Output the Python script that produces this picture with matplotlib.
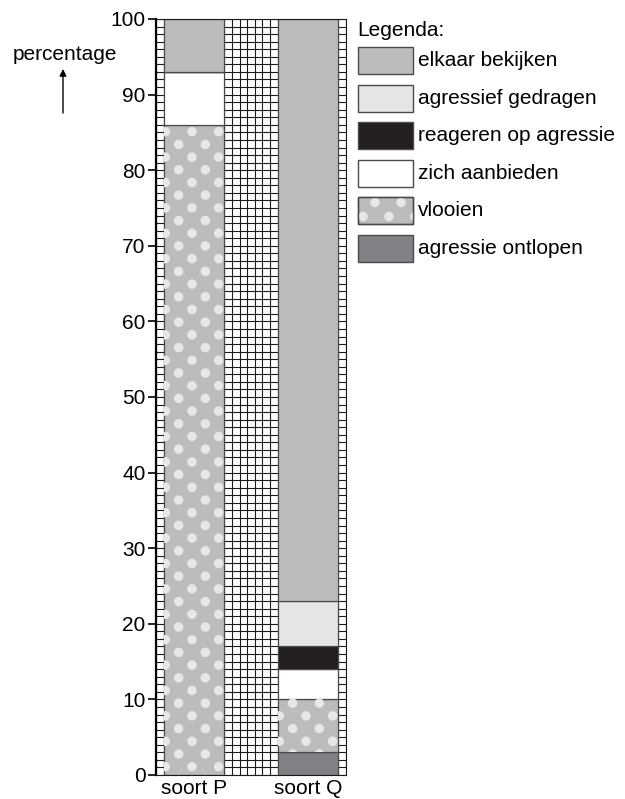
import matplotlib
matplotlib.use("Agg")
import matplotlib.pyplot as plt
import numpy as np
from matplotlib.patches import Rectangle, Ellipse

plt.rcParams["font.family"] = ["Liberation Sans", "DejaVu Sans"]

# data: percentage per behaviour, stacked bottom -> top
species = ["soort P", "soort Q"]
behaviours = ["agressie ontlopen", "vlooien", "zich aanbieden",
              "reageren op agressie", "agressief gedragen", "elkaar bekijken"]
soort_p = [0, 86, 7, 0, 0, 7]
soort_q = [3, 7, 4, 3, 6, 77]

# legend order (top -> bottom)
legend_order = ["elkaar bekijken", "agressief gedragen", "reageren op agressie",
                "zich aanbieden", "vlooien", "agressie ontlopen"]

colors = {
    "elkaar bekijken": "#bbbcbe",
    "agressief gedragen": "#e4e5e6",
    "reageren op agressie": "#231f20",
    "zich aanbieden": "#ffffff",
    "vlooien": "#bbbcbe",
    "agressie ontlopen": "#808285",
}
DOT_COLOR = "#e6e7e8"
EDGE = "#4a4a4a"

W, H = 625, 799
fig = plt.figure(figsize=(W / 100, H / 100), dpi=100)

# main axes in pixel geometry: x 156..346, y 19..775
ax = fig.add_axes([156 / W, (H - 775) / H, 190 / W, 756 / H])
ax.set_xlim(0, 25)
ax.set_ylim(0, 100)
px_x = 190 / 25
px_y = 756 / 100

x_pos = [5, 20]
bar_w = 8


def add_dots(target, patch, x0, x1, y0, y1, dx, dy, first, dw, dh):
    """Staggered light dots over a patch, clipped to it."""
    k = int(np.floor((y0 - first) / dy)) - 1
    while first + k * dy < y1 + dy:
        yy = first + k * dy
        off = 0.22 * dx / 3.5 if k % 2 == 0 else 0.22 * dx / 3.5 + dx / 2
        xx = x0 + off - dx
        while xx < x1 + dx:
            e = Ellipse((xx, yy), dw, dh, facecolor=DOT_COLOR,
                        edgecolor="none", zorder=3)
            target.add_patch(e)
            e.set_clip_path(patch)
            xx += dx
        k += 1


bottoms = np.zeros(len(species))
for i, b in enumerate(behaviours):
    vals = np.array([soort_p[i], soort_q[i]])
    bars = ax.bar(x_pos, vals, width=bar_w, bottom=bottoms,
                  color=colors[b], edgecolor=EDGE, linewidth=0.9, zorder=2)
    if b == "vlooien":
        for rect, v, btm in zip(bars, vals, bottoms):
            if v <= 0:
                continue
            x0 = rect.get_x()
            add_dots(ax, rect, x0, x0 + bar_w, btm, btm + v,
                     26.7 / px_x, 12.7 / px_y, 1.1,
                     9.5 / px_x, 9.5 / px_y)
    bottoms += vals

# square grid
ax.set_xticks(np.arange(0, 26), minor=True)
ax.set_yticks(np.arange(0, 101), minor=True)
ax.set_yticks(np.arange(0, 101, 10))
ax.set_xticks(x_pos)
ax.set_xticklabels(species, fontsize=15)
ax.grid(axis="x", which="minor", color="#1a1a1a", linewidth=0.8)
ax.grid(axis="y", which="both", color="#1a1a1a", linewidth=0.8)
ax.set_axisbelow(True)
ax.tick_params(axis="x", which="both", length=0, pad=3)
ax.tick_params(axis="y", which="minor", length=0)
ax.tick_params(axis="y", which="major", length=6, width=1.2, pad=1.5,
               labelsize=15, direction="out")
for s in ax.spines.values():
    s.set_color("#1a1a1a")
    s.set_linewidth(0.8)
ax.spines["left"].set_linewidth(1.6)
ax.spines["left"].set_color("black")

# overlay in pixel coordinates for legend and axis label
ov = fig.add_axes([0, 0, 1, 1])
ov.set_xlim(0, W)
ov.set_ylim(H, 0)
ov.axis("off")
ov.patch.set_alpha(0)

ov.text(65, 55, "percentage", fontsize=15, ha="center", va="center")
ov.annotate("", xy=(63, 69), xytext=(63, 113),
            arrowprops=dict(arrowstyle="-|>", color="black", lw=1,
                            mutation_scale=10, shrinkA=0, shrinkB=0))

ov.text(357, 30, "Legenda:", fontsize=15, ha="left", va="center")
for j, name in enumerate(legend_order):
    top = 47 + j * 37.6
    box = Rectangle((358, top), 55, 27, facecolor=colors[name],
                    edgecolor=EDGE, linewidth=1.0, zorder=2)
    ov.add_patch(box)
    if name == "vlooien":
        for k, yy in enumerate([top + 5, top + 19]):
            off = 17 if k == 0 else 5
            xx = 358 + off - 26
            while xx < 413 + 26:
                e = Ellipse((xx, yy), 9.5, 9.5, facecolor=DOT_COLOR,
                            edgecolor="none", zorder=3)
                ov.add_patch(e)
                e.set_clip_path(box)
                xx += 26
        # redraw outline on top of the dots
        ov.add_patch(Rectangle((358, top), 55, 27, facecolor="none",
                               edgecolor=EDGE, linewidth=1.0, zorder=4))
    ov.text(418, top + 13.5, name, fontsize=15, ha="left", va="center")

fig.savefig("out.png", dpi=100)
